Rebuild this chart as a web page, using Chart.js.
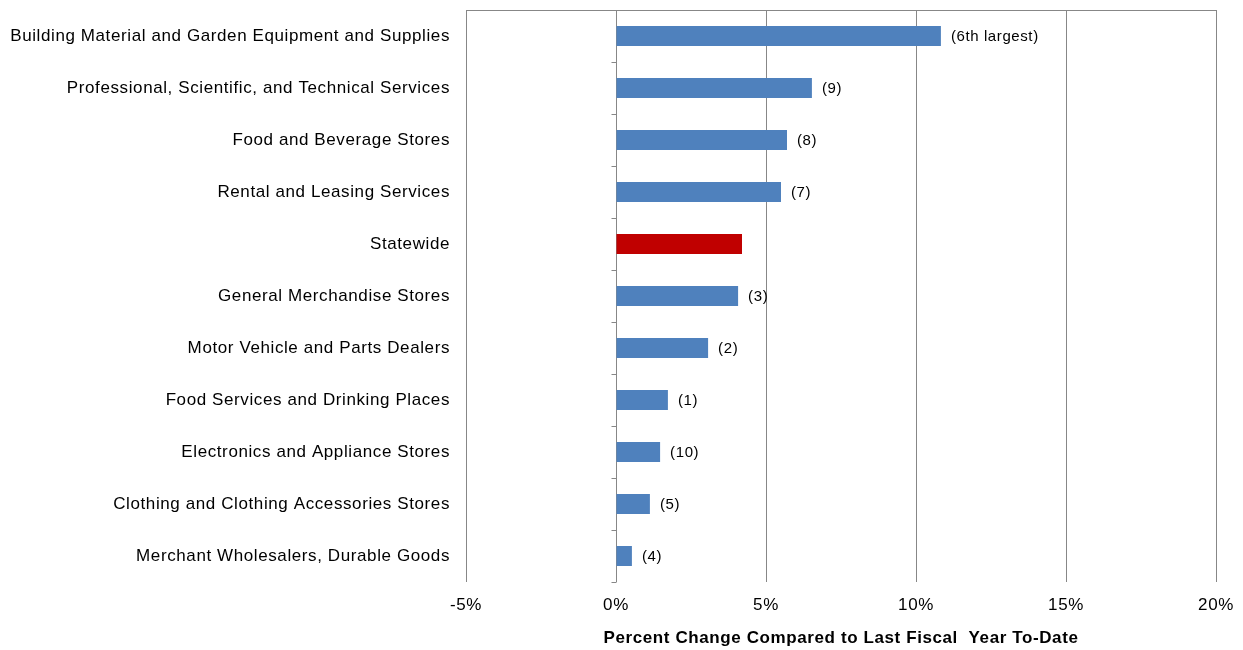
<!DOCTYPE html>
<html>
<head>
<meta charset="utf-8">
<script src="https://cdn.jsdelivr.net/npm/chart.js@4"></script>
<style>
  html, body { margin: 0; padding: 0; background: #fff; }
  #wrap { width: 1243px; height: 650px; position: relative; }
</style>
</head>
<body>
<div id="wrap"><canvas id="c" width="1243" height="650"></canvas></div>
<script>
const categories = [
  "Building Material and Garden Equipment and Supplies",
  "Professional, Scientific, and Technical Services",
  "Food and Beverage Stores",
  "Rental and Leasing Services",
  "Statewide",
  "General Merchandise Stores",
  "Motor Vehicle and Parts Dealers",
  "Food Services and Drinking Places",
  "Electronics and Appliance Stores",
  "Clothing and Clothing Accessories Stores",
  "Merchant Wholesalers, Durable Goods"
];
const percentChange = [10.83, 6.53, 5.7, 5.5, 4.2, 4.07, 3.07, 1.73, 1.47, 1.13, 0.53];
const rankLabels = ["(6th largest)", "(9)", "(8)", "(7)", "", "(3)", "(2)", "(1)", "(10)", "(5)", "(4)"];
const highlightCategory = "Statewide";
const xTicks = [-5, 0, 5, 10, 15, 20];
const axisTitle = "Percent Change Compared to Last Fiscal  Year To-Date";

const FONT = "'Liberation Sans', Arial, sans-serif";
const GRID = "#878787";
const SPACING = "0.6px";

const barColors = categories.map(c => c === highlightCategory ? "#C00000" : "#4F81BD");

const spacingPlugin = {
  id: "spacing",
  beforeUpdate(chart) { chart.ctx.letterSpacing = SPACING; },
  beforeLayout(chart) { chart.ctx.letterSpacing = SPACING; },
  beforeDraw(chart) { chart.ctx.letterSpacing = SPACING; }
};

const decorPlugin = {
  id: "decor",
  afterDraw(chart) {
    const ctx = chart.ctx;
    const xs = chart.scales.x;
    const area = chart.chartArea;
    ctx.save();
    ctx.strokeStyle = GRID;
    ctx.lineWidth = 1;
    // top border line
    ctx.beginPath();
    ctx.moveTo(area.left, Math.round(area.top) + 0.5);
    ctx.lineTo(area.right, Math.round(area.top) + 0.5);
    ctx.stroke();
    // tick marks on zero axis at category boundaries
    const x0 = Math.round(xs.getPixelForValue(0)) + 0.5;
    const n = categories.length;
    const h = (area.bottom - area.top) / n;
    for (let i = 1; i <= n; i++) {
      const y = Math.round(area.top + i * h) + 0.5;
      ctx.beginPath();
      ctx.moveTo(x0 - 5, y);
      ctx.lineTo(x0, y);
      ctx.stroke();
    }
    // rank labels
    const meta = chart.getDatasetMeta(0);
    ctx.fillStyle = "#000";
    ctx.font = "15px " + FONT;
    ctx.letterSpacing = SPACING;
    ctx.textAlign = "left";
    ctx.textBaseline = "middle";
    meta.data.forEach((bar, i) => {
      if (rankLabels[i]) ctx.fillText(rankLabels[i], bar.x + 10, bar.y + 1);
    });
    ctx.restore();
  }
};

new Chart(document.getElementById("c"), {
  type: "bar",
  data: {
    labels: categories,
    datasets: [{
      data: percentChange,
      backgroundColor: barColors,
      borderWidth: 0,
      barPercentage: 0.385,
      categoryPercentage: 1.0
    }]
  },
  options: {
    indexAxis: "y",
    responsive: false,
    animation: false,
    layout: { padding: { top: 10, right: 27, left: 0, bottom: 0 } },
    plugins: { legend: { display: false }, tooltip: { enabled: false } },
    scales: {
      x: {
        min: -5, max: 20,
        afterBuildTicks(scale) { scale.ticks = xTicks.map(v => ({ value: v })); },
        afterFit(scale) {
          scale.height = 68;
          scale.paddingLeft = 0; scale.paddingRight = 0;
          scale.paddingTop = 0; scale.paddingBottom = 0;
        },
        grid: { color: GRID, drawTicks: false, lineWidth: 1 },
        border: { display: false },
        ticks: {
          padding: 13,
          color: "#000",
          font: { family: FONT, size: 17 },
          callback: v => v + "%"
        },
        title: {
          display: true,
          text: axisTitle,
          color: "#000",
          font: { family: FONT, size: 17, weight: "bold" },
          padding: { top: 6, bottom: 1 }
        }
      },
      y: {
        afterFit(scale) {
          scale.width = 466;
          scale.paddingTop = 0; scale.paddingBottom = 0;
          scale.paddingLeft = 0; scale.paddingRight = 0;
        },
        grid: { display: false, drawTicks: false },
        border: { display: false },
        ticks: {
          padding: 16,
          color: "#000",
          font: { family: FONT, size: 17 }
        }
      }
    }
  },
  plugins: [spacingPlugin, decorPlugin]
});
</script>
</body>
</html>
